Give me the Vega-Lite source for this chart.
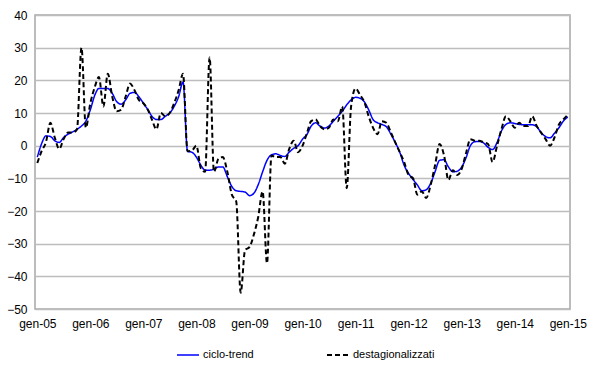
{
  "$schema": "https://vega.github.io/schema/vega-lite/v6.json",
  "width": 535,
  "height": 294,
  "autosize": "none",
  "padding": {"left": 35, "top": 15, "right": 30, "bottom": 56},
  "background": "white",
  "config": {
    "font": "Liberation Sans",
    "view": {"stroke": "#a6a6a6", "strokeWidth": 1.5},
    "axis": {"labelFont": "Liberation Sans", "labelFontSize": 12, "labelColor": "#000000", "titleFont": "Liberation Sans"}
  },
  "data": {
    "values": [
      {"mese": "2005-01-01", "ciclo-trend": -3.5, "destagionalizzati": -5.3},
      {"mese": "2005-02-01", "ciclo-trend": 0.8, "destagionalizzati": -1.5},
      {"mese": "2005-03-01", "ciclo-trend": 3, "destagionalizzati": 1},
      {"mese": "2005-04-01", "ciclo-trend": 2.8, "destagionalizzati": 7},
      {"mese": "2005-05-01", "ciclo-trend": 1.5, "destagionalizzati": 2.5},
      {"mese": "2005-06-01", "ciclo-trend": 1, "destagionalizzati": -1},
      {"mese": "2005-07-01", "ciclo-trend": 2.5, "destagionalizzati": 2},
      {"mese": "2005-08-01", "ciclo-trend": 3.5, "destagionalizzati": 4},
      {"mese": "2005-09-01", "ciclo-trend": 4.2, "destagionalizzati": 4},
      {"mese": "2005-10-01", "ciclo-trend": 5, "destagionalizzati": 5},
      {"mese": "2005-11-01", "ciclo-trend": 6, "destagionalizzati": 30},
      {"mese": "2005-12-01", "ciclo-trend": 7.5, "destagionalizzati": 5.5},
      {"mese": "2006-01-01", "ciclo-trend": 11, "destagionalizzati": 13},
      {"mese": "2006-02-01", "ciclo-trend": 15.5, "destagionalizzati": 18},
      {"mese": "2006-03-01", "ciclo-trend": 17.5, "destagionalizzati": 21},
      {"mese": "2006-04-01", "ciclo-trend": 17.5, "destagionalizzati": 12},
      {"mese": "2006-05-01", "ciclo-trend": 17.5, "destagionalizzati": 22},
      {"mese": "2006-06-01", "ciclo-trend": 16, "destagionalizzati": 15},
      {"mese": "2006-07-01", "ciclo-trend": 13.5, "destagionalizzati": 10.5},
      {"mese": "2006-08-01", "ciclo-trend": 12.7, "destagionalizzati": 11},
      {"mese": "2006-09-01", "ciclo-trend": 14, "destagionalizzati": 15},
      {"mese": "2006-10-01", "ciclo-trend": 16, "destagionalizzati": 19},
      {"mese": "2006-11-01", "ciclo-trend": 16.3, "destagionalizzati": 17},
      {"mese": "2006-12-01", "ciclo-trend": 15, "destagionalizzati": 14},
      {"mese": "2007-01-01", "ciclo-trend": 13, "destagionalizzati": 13},
      {"mese": "2007-02-01", "ciclo-trend": 11, "destagionalizzati": 11},
      {"mese": "2007-03-01", "ciclo-trend": 9, "destagionalizzati": 8},
      {"mese": "2007-04-01", "ciclo-trend": 8, "destagionalizzati": 5},
      {"mese": "2007-05-01", "ciclo-trend": 8, "destagionalizzati": 10},
      {"mese": "2007-06-01", "ciclo-trend": 9, "destagionalizzati": 9},
      {"mese": "2007-07-01", "ciclo-trend": 10, "destagionalizzati": 10},
      {"mese": "2007-08-01", "ciclo-trend": 12, "destagionalizzati": 13},
      {"mese": "2007-09-01", "ciclo-trend": 15, "destagionalizzati": 17},
      {"mese": "2007-10-01", "ciclo-trend": 19.5, "destagionalizzati": 22},
      {"mese": "2007-11-01", "ciclo-trend": -1.7, "destagionalizzati": -1.7},
      {"mese": "2007-12-01", "ciclo-trend": -2, "destagionalizzati": -1.5},
      {"mese": "2008-01-01", "ciclo-trend": -3.5, "destagionalizzati": 0},
      {"mese": "2008-02-01", "ciclo-trend": -6, "destagionalizzati": -7},
      {"mese": "2008-03-01", "ciclo-trend": -7.5, "destagionalizzati": -8},
      {"mese": "2008-04-01", "ciclo-trend": -7.5, "destagionalizzati": 27},
      {"mese": "2008-05-01", "ciclo-trend": -7.2, "destagionalizzati": -8},
      {"mese": "2008-06-01", "ciclo-trend": -6.5, "destagionalizzati": -4},
      {"mese": "2008-07-01", "ciclo-trend": -6.5, "destagionalizzati": -3.5},
      {"mese": "2008-08-01", "ciclo-trend": -9.5, "destagionalizzati": -8},
      {"mese": "2008-09-01", "ciclo-trend": -12.5, "destagionalizzati": -15},
      {"mese": "2008-10-01", "ciclo-trend": -13.8, "destagionalizzati": -17},
      {"mese": "2008-11-01", "ciclo-trend": -14, "destagionalizzati": -45},
      {"mese": "2008-12-01", "ciclo-trend": -14.2, "destagionalizzati": -32},
      {"mese": "2009-01-01", "ciclo-trend": -15.3, "destagionalizzati": -31},
      {"mese": "2009-02-01", "ciclo-trend": -14.5, "destagionalizzati": -27},
      {"mese": "2009-03-01", "ciclo-trend": -12, "destagionalizzati": -22},
      {"mese": "2009-04-01", "ciclo-trend": -8, "destagionalizzati": -14},
      {"mese": "2009-05-01", "ciclo-trend": -4.5, "destagionalizzati": -36},
      {"mese": "2009-06-01", "ciclo-trend": -2.8, "destagionalizzati": -3},
      {"mese": "2009-07-01", "ciclo-trend": -2.5, "destagionalizzati": -3.5},
      {"mese": "2009-08-01", "ciclo-trend": -3, "destagionalizzati": -3.5},
      {"mese": "2009-09-01", "ciclo-trend": -3.3, "destagionalizzati": -5.5},
      {"mese": "2009-10-01", "ciclo-trend": -2, "destagionalizzati": -1},
      {"mese": "2009-11-01", "ciclo-trend": -0.8, "destagionalizzati": 1.5},
      {"mese": "2009-12-01", "ciclo-trend": 0, "destagionalizzati": -2},
      {"mese": "2010-01-01", "ciclo-trend": 2, "destagionalizzati": 0},
      {"mese": "2010-02-01", "ciclo-trend": 3.5, "destagionalizzati": 4},
      {"mese": "2010-03-01", "ciclo-trend": 6, "destagionalizzati": 7.5},
      {"mese": "2010-04-01", "ciclo-trend": 7, "destagionalizzati": 8},
      {"mese": "2010-05-01", "ciclo-trend": 6, "destagionalizzati": 6},
      {"mese": "2010-06-01", "ciclo-trend": 5.4, "destagionalizzati": 5},
      {"mese": "2010-07-01", "ciclo-trend": 6, "destagionalizzati": 5.5},
      {"mese": "2010-08-01", "ciclo-trend": 7.5, "destagionalizzati": 8},
      {"mese": "2010-09-01", "ciclo-trend": 9, "destagionalizzati": 7.5},
      {"mese": "2010-10-01", "ciclo-trend": 10.5, "destagionalizzati": 12},
      {"mese": "2010-11-01", "ciclo-trend": 12.5, "destagionalizzati": -13},
      {"mese": "2010-12-01", "ciclo-trend": 14, "destagionalizzati": 12},
      {"mese": "2011-01-01", "ciclo-trend": 14.8, "destagionalizzati": 17.5},
      {"mese": "2011-02-01", "ciclo-trend": 14.5, "destagionalizzati": 15.5},
      {"mese": "2011-03-01", "ciclo-trend": 13.5, "destagionalizzati": 13.5},
      {"mese": "2011-04-01", "ciclo-trend": 11, "destagionalizzati": 9},
      {"mese": "2011-05-01", "ciclo-trend": 8, "destagionalizzati": 5.5},
      {"mese": "2011-06-01", "ciclo-trend": 7, "destagionalizzati": 3.5},
      {"mese": "2011-07-01", "ciclo-trend": 6.5, "destagionalizzati": 7.5},
      {"mese": "2011-08-01", "ciclo-trend": 5.8, "destagionalizzati": 7},
      {"mese": "2011-09-01", "ciclo-trend": 3.5, "destagionalizzati": 4},
      {"mese": "2011-10-01", "ciclo-trend": 1, "destagionalizzati": 1},
      {"mese": "2011-11-01", "ciclo-trend": -2, "destagionalizzati": -2},
      {"mese": "2011-12-01", "ciclo-trend": -6, "destagionalizzati": -5},
      {"mese": "2012-01-01", "ciclo-trend": -8.5, "destagionalizzati": -9},
      {"mese": "2012-02-01", "ciclo-trend": -10.4, "destagionalizzati": -10},
      {"mese": "2012-03-01", "ciclo-trend": -12, "destagionalizzati": -15},
      {"mese": "2012-04-01", "ciclo-trend": -13.8, "destagionalizzati": -14},
      {"mese": "2012-05-01", "ciclo-trend": -13.5, "destagionalizzati": -16},
      {"mese": "2012-06-01", "ciclo-trend": -11.5, "destagionalizzati": -12},
      {"mese": "2012-07-01", "ciclo-trend": -8, "destagionalizzati": -6},
      {"mese": "2012-08-01", "ciclo-trend": -4.5, "destagionalizzati": 0.5},
      {"mese": "2012-09-01", "ciclo-trend": -4.3, "destagionalizzati": -3},
      {"mese": "2012-10-01", "ciclo-trend": -6.5, "destagionalizzati": -10.5},
      {"mese": "2012-11-01", "ciclo-trend": -8, "destagionalizzati": -7.5},
      {"mese": "2012-12-01", "ciclo-trend": -7.8, "destagionalizzati": -9},
      {"mese": "2013-01-01", "ciclo-trend": -6.5, "destagionalizzati": -7},
      {"mese": "2013-02-01", "ciclo-trend": -3.5, "destagionalizzati": -2},
      {"mese": "2013-03-01", "ciclo-trend": 0, "destagionalizzati": 2},
      {"mese": "2013-04-01", "ciclo-trend": 1.2, "destagionalizzati": 1.5},
      {"mese": "2013-05-01", "ciclo-trend": 1.3, "destagionalizzati": 1.5},
      {"mese": "2013-06-01", "ciclo-trend": 0.8, "destagionalizzati": 1},
      {"mese": "2013-07-01", "ciclo-trend": -0.5, "destagionalizzati": 0.5},
      {"mese": "2013-08-01", "ciclo-trend": -1.2, "destagionalizzati": -5},
      {"mese": "2013-09-01", "ciclo-trend": 1, "destagionalizzati": 0},
      {"mese": "2013-10-01", "ciclo-trend": 4.5, "destagionalizzati": 5},
      {"mese": "2013-11-01", "ciclo-trend": 6.5, "destagionalizzati": 9},
      {"mese": "2013-12-01", "ciclo-trend": 7, "destagionalizzati": 7.5},
      {"mese": "2014-01-01", "ciclo-trend": 6.8, "destagionalizzati": 5.5},
      {"mese": "2014-02-01", "ciclo-trend": 6.5, "destagionalizzati": 7},
      {"mese": "2014-03-01", "ciclo-trend": 6.4, "destagionalizzati": 6},
      {"mese": "2014-04-01", "ciclo-trend": 6.4, "destagionalizzati": 6},
      {"mese": "2014-05-01", "ciclo-trend": 6.4, "destagionalizzati": 9},
      {"mese": "2014-06-01", "ciclo-trend": 5.8, "destagionalizzati": 6},
      {"mese": "2014-07-01", "ciclo-trend": 4, "destagionalizzati": 4},
      {"mese": "2014-08-01", "ciclo-trend": 2.8, "destagionalizzati": 2},
      {"mese": "2014-09-01", "ciclo-trend": 2.4, "destagionalizzati": 0},
      {"mese": "2014-10-01", "ciclo-trend": 3.8, "destagionalizzati": 2.5},
      {"mese": "2014-11-01", "ciclo-trend": 5.5, "destagionalizzati": 6.5},
      {"mese": "2014-12-01", "ciclo-trend": 7.5, "destagionalizzati": 8},
      {"mese": "2015-01-01", "ciclo-trend": 8.8, "destagionalizzati": 9.5}
    ]
  },
  "transform": [
    {"fold": ["ciclo-trend", "destagionalizzati"], "as": ["serie", "valore"]}
  ],
  "mark": {"type": "line", "interpolate": "monotone"},
  "encoding": {
    "x": {
      "field": "mese",
      "type": "temporal",
      "scale": {
        "type": "utc",
        "domain": [
          {"year": 2004, "month": 12, "date": 16, "utc": true},
          {"year": 2015, "month": 1, "date": 16, "utc": true}
        ]
      },
      "axis": {
        "title": null,
        "grid": false,
        "domain": false,
        "ticks": false,
        "labelPadding": 9,
        "labelFlush": false,
        "labelOverlap": false,
        "tickCount": {"interval": "year", "step": 1},
        "labelExpr": "'gen-' + utcFormat(datum.value, '%y')"
      }
    },
    "y": {
      "field": "valore",
      "type": "quantitative",
      "scale": {"domain": [-50, 40], "nice": false, "zero": false},
      "axis": {
        "title": null,
        "values": [-50, -40, -30, -20, -10, 0, 10, 20, 30, 40],
        "grid": true,
        "gridColor": "#bdbdbd",
        "gridWidth": 1.5,
        "domain": false,
        "ticks": false,
        "labelPadding": 8
      }
    },
    "color": {
      "field": "serie",
      "type": "nominal",
      "scale": {"domain": ["ciclo-trend", "destagionalizzati"], "range": ["#0000ff", "#000000"]},
      "legend": {
        "title": null,
        "orient": "none",
        "legendX": 141,
        "legendY": 328,
        "direction": "horizontal",
        "columns": 2,
        "columnPadding": 69,
        "padding": 0,
        "symbolType": "stroke",
        "symbolSize": 484,
        "symbolStrokeWidth": 1.5,
        "labelFont": "Liberation Sans",
        "labelFontSize": 11,
        "labelColor": "#000000",
        "labelOffset": 3
      }
    },
    "strokeDash": {
      "field": "serie",
      "type": "nominal",
      "scale": {"domain": ["ciclo-trend", "destagionalizzati"], "range": [[1, 0], [5, 3]]},
      "legend": {
        "title": null,
        "orient": "none",
        "legendX": 141,
        "legendY": 328,
        "direction": "horizontal",
        "columns": 2,
        "columnPadding": 69,
        "padding": 0,
        "symbolType": "stroke",
        "symbolSize": 484,
        "symbolStrokeWidth": 1.5,
        "labelFont": "Liberation Sans",
        "labelFontSize": 11,
        "labelColor": "#000000",
        "labelOffset": 3
      }
    },
    "strokeWidth": {
      "field": "serie",
      "type": "nominal",
      "scale": {"domain": ["ciclo-trend", "destagionalizzati"], "range": [1.5, 2]},
      "legend": null
    }
  }
}
